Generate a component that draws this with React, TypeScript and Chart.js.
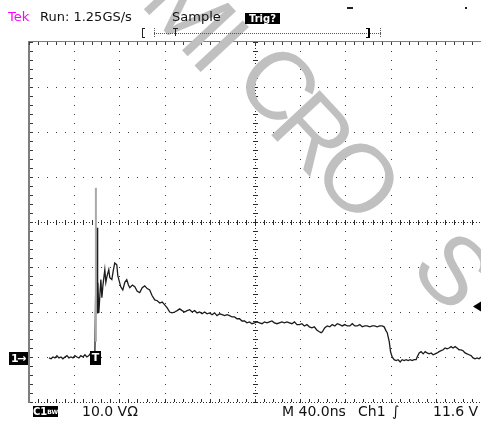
import React, { useEffect, useRef } from 'react';
import { Chart, registerables } from 'chart.js';

Chart.register(...registerables);

// ---- data (time in ns, amplitude in volts) ----
const traceTimeNs = [
  17.7, 19.5, 21.2, 23.0, 24.7, 26.5, 28.3, 30.0, 31.8, 33.6, 35.3, 37.1, 38.9, 40.6, 42.4, 44.2, 45.9, 47.7,
  49.5, 51.2, 53.0, 54.7, 56.5, 58.3, 59.7, 60.2, 60.9, 61.8, 62.7, 63.6, 64.5, 65.5, 67.1, 68.0, 68.9, 70.6,
  71.5, 73.3, 74.5, 75.9, 77.7, 78.6, 79.5, 81.2, 83.0, 84.8, 86.5, 88.0, 89.2, 91.5, 93.6, 95.8, 98.0, 100.2,
  102.4, 104.6, 106.8, 109.0, 111.3, 113.5, 115.7, 117.9, 120.1, 122.3, 124.5, 126.7, 128.9, 131.1, 133.3,
  135.5, 137.7, 139.9, 142.2, 144.4, 146.6, 148.8, 151.0, 153.2, 155.4, 157.6, 159.8, 162.0, 164.2, 166.4,
  168.7, 170.9, 173.1, 175.3, 177.5, 179.7, 181.9, 184.1, 186.3, 188.5, 190.7, 192.9, 195.1, 197.3, 199.6,
  201.8, 204.0, 206.2, 208.4, 210.6, 212.8, 215.0, 217.2, 219.4, 221.6, 223.8, 226.0, 228.3, 230.5, 232.7,
  234.9, 237.1, 239.3, 241.5, 243.7, 245.9, 248.1, 250.3, 252.5, 254.7, 256.9, 258.5, 259.6, 261.8, 264.0,
  266.2, 268.4, 270.6, 272.8, 275.0, 277.2, 279.5, 281.7, 283.9, 286.1, 288.3, 290.5, 292.7, 294.9, 297.1,
  299.3, 301.5, 303.7, 305.9, 308.1, 310.3, 312.5, 314.3, 316.0, 317.0, 318.8, 320.0, 321.4, 323.1, 324.9,
  326.7, 328.5, 330.2, 332.0, 333.8, 335.5, 337.3, 339.1, 340.8, 342.6, 343.5, 345.3, 347.0, 348.8, 350.6,
  352.3, 354.1, 355.9, 357.6, 359.4, 361.2, 362.9, 364.7, 366.5, 368.2, 370.0, 371.8, 373.5, 375.3, 377.1,
  378.8, 380.6, 382.4, 384.1, 385.9, 387.7, 389.4, 391.2, 393.0, 394.7, 396.5, 398.3, 400.0,
];
const traceVolts = [
  0.2, 0.0, 0.4, 0.2, 0.7, 0.2, 0.4, 0.0, 0.4, 0.7, 0.2, 0.4, 0.2, 0.7, 0.4, 0.2, 0.7, 0.4,
  0.9, 0.4, 0.7, 1.3, 0.7, 1.1, 29.1, 10.2, 16.9, 10.2, 14.0, 17.6, 13.6, 16.5, 19.8, 17.0, 18.2, 19.8,
  18.0, 17.6, 19.5, 21.3, 20.9, 18.5, 17.6, 16.0, 15.3, 17.0, 17.6, 16.4, 15.8, 16.4, 16.0, 15.0, 14.7, 15.8,
  16.2, 15.6, 15.3, 14.0, 13.1, 12.9, 12.4, 12.6, 12.0, 11.3, 10.4, 10.2, 10.4, 10.7, 11.1,
  10.7, 10.4, 10.7, 10.9, 10.4, 10.7, 10.2, 10.4, 10.0, 10.4, 10.0, 10.2, 9.8, 10.2, 9.6,
  10.0, 9.8, 9.6, 9.8, 9.6, 9.3, 9.3, 8.9, 8.9, 8.4, 8.4, 8.0, 8.2, 7.8, 8.0,
  8.2, 8.0, 7.8, 8.2, 8.0, 8.2, 8.4, 8.0, 7.8, 8.0, 8.2, 8.0, 8.2, 8.0, 7.8,
  8.2, 7.6, 7.6, 7.8, 7.3, 7.6, 7.1, 6.9, 7.1, 6.4, 6.0, 5.8, 6.0, 6.9, 7.3,
  7.1, 7.6, 7.3, 7.8, 7.6, 7.3, 7.6, 7.3, 7.3, 7.8, 7.3, 7.3, 7.6, 7.1, 7.3,
  7.3, 7.1, 7.3, 7.3, 7.1, 7.3, 7.3, 7.1, 6.2, 5.8, 3.8, 1.5, 0.4, -0.2, -0.4,
  -0.2, -0.7, -0.2, -0.4, -0.2, -0.4, -0.2, -0.4, -0.2, -0.2, 0.4, 1.3, 1.6, 1.1, 1.6,
  1.3, 1.1, 1.3, 0.9, 1.1, 1.3, 1.6, 1.8, 2.0, 2.4, 2.2, 2.4, 2.7, 2.4, 2.7,
  2.4, 2.0, 2.0, 1.8, 1.3, 1.1, 0.9, 0.7, 0.2, 0.0, 0.2, 0.0, 0.4,
];
// glitch envelope (light grey) and the fast rising edge (bold)
const glitchTimeNs = [59.2, 59.2];
const glitchVolts = [3.8, 38.0];
const edgeTimeNs = [60.0, 60.0];
const edgeVolts = [29.1, 11.6];

// graticule: 10 x 40 ns, 8 x 10 V (ground marker 0.96 div above bottom)
const xDivisionsNs = [0, 40, 80, 120, 160, 200, 240, 280, 320, 360, 400];
const yDivisionsV = [-9.6, 0.4, 10.4, 20.4, 30.4, 40.4, 50.4, 60.4, 70.4];
const xCenterNs = 200;
const yCenterV = 30.4;
const groundLevelV = 0;
const triggerTimeNs = 59.2;
const triggerLevelV = 11.6;

const headerLabels = { brand: 'Tek', run: 'Run: 1.25GS/s', mode: 'Sample', trig: 'Trig?' };
const footerLabels = { ch: 'C1', scale: '10.0 VΩ', time: 'M 40.0ns', src: 'Ch1', edge: '∫', level: '11.6 V' };
const watermarkLetters = ['M', 'I', 'C', 'R', 'O', 'S', 'S'];
const watermarkCenters = [[188, 12], [220, 48], [277, 86], [312, 134], [357, 180], [452, 272], [518, 340]];

const pts = (xs: number[], ys: number[]) => xs.map((x, i) => ({ x, y: ys[i] }));

const scopePlugin = {
  id: 'scope',
  beforeDatasetsDraw(chart: any) {
    const { ctx, chartArea: a, scales } = chart;
    const xs = scales.x;
    const ys = scales.y;
    const L = Math.round(a.left);
    const T = Math.round(a.top);
    const R = Math.round(a.right);
    const B = Math.round(a.bottom);
    ctx.save();
    const minorX: number[] = [];
    for (let i = 0; i < xDivisionsNs.length - 1; i++) {
      const s = (xDivisionsNs[i + 1] - xDivisionsNs[i]) / 5;
      for (let k = 0; k < 5; k++) minorX.push(Math.round(xs.getPixelForValue(xDivisionsNs[i] + k * s)));
    }
    minorX.push(Math.round(xs.getPixelForValue(xDivisionsNs[xDivisionsNs.length - 1])));
    const minorY: number[] = [];
    for (let i = 0; i < yDivisionsV.length - 1; i++) {
      const s = (yDivisionsV[i + 1] - yDivisionsV[i]) / 5;
      for (let k = 0; k < 5; k++) minorY.push(Math.round(ys.getPixelForValue(yDivisionsV[i] + k * s)));
    }
    minorY.push(Math.round(ys.getPixelForValue(yDivisionsV[yDivisionsV.length - 1])));
    const majX = xDivisionsNs.map((v) => Math.round(xs.getPixelForValue(v)));
    const majY = yDivisionsV.map((v) => Math.round(ys.getPixelForValue(v)));
    const cx = Math.round(xs.getPixelForValue(xCenterNs));
    const cy = Math.round(ys.getPixelForValue(yCenterV));

    // dotted major lines
    ctx.fillStyle = '#3a3a3a';
    majX.forEach((px) => {
      if (px <= L + 1 || px === cx) return;
      minorY.forEach((py) => ctx.fillRect(px, py, 1, 1));
    });
    majY.forEach((py) => {
      if (py <= T + 1 || py >= B - 1 || py === cy) return;
      minorX.forEach((px) => ctx.fillRect(px, py, 1, 1));
    });
    // centre cross with ticks
    ctx.fillStyle = '#2a2a2a';
    for (let px = L; px <= R; px += 3) ctx.fillRect(px, cy, 1, 1);
    for (let py = T; py <= B; py += 3) ctx.fillRect(cx, py, 1, 1);
    minorX.forEach((px) => ctx.fillRect(px, cy - 2, 1, 5));
    minorY.forEach((py) => ctx.fillRect(cx - 2, py, 5, 1));
    // bottom edge
    for (let px = L; px <= R; px += 3) ctx.fillRect(px, B, 1, 1);
    minorX.forEach((px) => ctx.fillRect(px, B - 3, 1, 3));
    // frame top / left
    ctx.fillStyle = '#7d7d7d';
    ctx.fillRect(L - 1, T, 2, B - T + 1);
    ctx.fillRect(L - 1, T - 1, R - L + 2, 1);
    ctx.fillStyle = '#3a3a3a';
    minorX.forEach((px) => ctx.fillRect(px, T, 1, 3));
    minorY.forEach((py) => ctx.fillRect(L + 1, py, 3, 1));
    ctx.restore();
  },
  afterDraw(chart: any) {
    const { ctx, chartArea: a, scales } = chart;
    const xs = scales.x;
    const ys = scales.y;
    ctx.save();
    // watermark
    ctx.fillStyle = '#c0c0c0';
    ctx.font = '96px "Liberation Sans", Arial, sans-serif';
    ctx.textAlign = 'center';
    ctx.textBaseline = 'middle';
    watermarkLetters.forEach((ch, i) => {
      const [wx, wy] = watermarkCenters[i];
      ctx.save();
      ctx.translate(wx, wy);
      ctx.rotate((47 * Math.PI) / 180);
      ctx.fillText(ch, 0, 4);
      ctx.restore();
    });

    // record-length bar
    ctx.fillStyle = '#222';
    ctx.fillRect(142, 28, 1, 10);
    ctx.fillRect(142, 28, 3, 1);
    ctx.fillRect(142, 37, 3, 1);
    ctx.fillStyle = '#555';
    for (let px = 154; px <= 380; px += 2) ctx.fillRect(px, 33, 1, 1);
    for (let py = 28; py <= 37; py += 2) {
      ctx.fillRect(154, py, 1, 1);
      ctx.fillRect(380, py, 1, 1);
    }
    ctx.fillStyle = '#222';
    ctx.fillRect(173, 28, 5, 1);
    ctx.fillRect(175, 28, 1, 8);
    ctx.fillStyle = '#000';
    ctx.fillRect(368, 28, 2, 10);
    ctx.fillRect(366, 28, 3, 1);
    ctx.fillRect(366, 37, 3, 1);
    ctx.fillStyle = '#222';
    ctx.fillRect(347, 7, 6, 2);
    ctx.fillRect(465, 7, 2, 2);

    // ground marker "1→"
    const gy = ys.getPixelForValue(groundLevelV);
    ctx.fillStyle = '#000';
    ctx.fillRect(9, Math.round(gy) - 7, 19, 13);
    ctx.fillStyle = '#fff';
    ctx.font = 'bold 11px "DejaVu Sans", sans-serif';
    ctx.textAlign = 'left';
    ctx.textBaseline = 'middle';
    ctx.fillText('1', 11, gy);
    ctx.fillText('→', 17, gy);

    // trigger position "T"
    const tx = xs.getPixelForValue(triggerTimeNs);
    ctx.fillStyle = '#000';
    ctx.fillRect(Math.round(tx) - 6, Math.round(gy) - 8, 11, 14);
    ctx.fillStyle = '#fff';
    ctx.textAlign = 'center';
    ctx.fillText('T', tx - 0.5, gy - 1);

    // trigger level arrow on the right
    const ly = ys.getPixelForValue(triggerLevelV);
    ctx.fillStyle = '#000';
    ctx.beginPath();
    ctx.moveTo(a.right - 8, ly);
    ctx.lineTo(a.right, ly - 5);
    ctx.lineTo(a.right, ly + 5);
    ctx.closePath();
    ctx.fill();
    ctx.restore();
  },
};

const textBase: React.CSSProperties = {
  position: 'absolute',
  fontFamily: '"DejaVu Sans", sans-serif',
  whiteSpace: 'nowrap',
  color: '#111',
  lineHeight: '1',
};

export default function App() {
  const canvasRef = useRef<HTMLCanvasElement | null>(null);

  useEffect(() => {
    document.body.style.margin = '0';
    const canvas = canvasRef.current;
    if (!canvas) return;
    const chart = new Chart(canvas, {
      type: 'line',
      data: {
        datasets: [
          {
            data: pts(glitchTimeNs, glitchVolts),
            borderColor: '#a9a9a9',
            borderWidth: 2,
            pointRadius: 0,
          },
          {
            data: pts(traceTimeNs, traceVolts),
            borderColor: '#1c1c1c',
            borderWidth: 1.3,
            pointRadius: 0,
            tension: 0,
          },
          {
            data: pts(edgeTimeNs, edgeVolts),
            borderColor: '#222',
            borderWidth: 3,
            pointRadius: 0,
          },
        ],
      },
      options: {
        responsive: false,
        animation: false,
        devicePixelRatio: 1,
        events: [],
        layout: { padding: { left: 29, top: 42, right: 0, bottom: 19 } },
        scales: {
          x: { type: 'linear', min: 0, max: 400, display: false },
          y: { type: 'linear', min: -9.6, max: 70.4, display: false },
        },
        plugins: { legend: { display: false }, tooltip: { enabled: false } },
      },
      plugins: [scopePlugin],
    });
    return () => chart.destroy();
  }, []);

  return (
    <div style={{ position: 'absolute', left: 0, top: 0, width: 481, height: 421, background: '#fff', overflow: 'hidden' }}>
      <canvas ref={canvasRef} width={481} height={421} style={{ position: 'absolute', left: 0, top: 0 }} />
      <span style={{ ...textBase, left: 8, top: 10, fontSize: 13, color: '#ff00ff' }}>{headerLabels.brand}</span>
      <span style={{ ...textBase, left: 40, top: 10, fontSize: 13 }}>{headerLabels.run}</span>
      <span style={{ ...textBase, left: 172, top: 10, fontSize: 13 }}>{headerLabels.mode}</span>
      <span
        style={{
          ...textBase,
          left: 245,
          top: 13,
          width: 35,
          height: 11,
          fontSize: 10,
          lineHeight: '11px',
          fontWeight: 'bold',
          background: '#000',
          color: '#fff',
          textAlign: 'center',
        }}
      >
        {headerLabels.trig}
      </span>
      <span
        style={{
          ...textBase,
          left: 33,
          top: 406,
          width: 25,
          height: 11,
          fontSize: 10,
          lineHeight: '11px',
          fontWeight: 'bold',
          background: '#000',
          color: '#fff',
          textAlign: 'center',
        }}
      >
        {footerLabels.ch}
        <span style={{ fontSize: 6, verticalAlign: 'top' }}>BW</span>
      </span>
      <span style={{ ...textBase, left: 82, top: 404, fontSize: 14 }}>{footerLabels.scale}</span>
      <span style={{ ...textBase, left: 282, top: 404, fontSize: 14 }}>{footerLabels.time}</span>
      <span style={{ ...textBase, left: 358, top: 404, fontSize: 14 }}>{footerLabels.src}</span>
      <span style={{ ...textBase, left: 392, top: 404, fontSize: 14, fontStyle: 'italic' }}>{footerLabels.edge}</span>
      <span style={{ ...textBase, left: 433, top: 404, fontSize: 14 }}>{footerLabels.level}</span>
    </div>
  );
}
